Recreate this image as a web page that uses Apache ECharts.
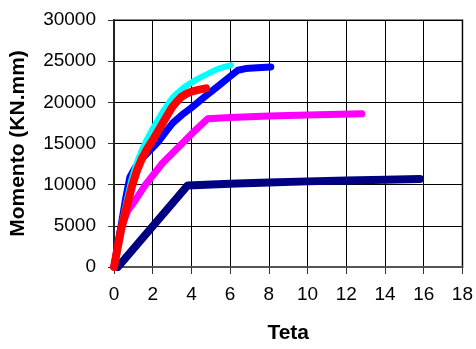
<!DOCTYPE html>
<html>
<head>
<meta charset="utf-8">
<script src="https://cdn.jsdelivr.net/npm/echarts@6/dist/echarts.min.js"></script>
<style>
  html, body { margin: 0; padding: 0; background: #fff; }
  #chart { width: 476px; height: 349px; }
</style>
</head>
<body>
<div id="chart"></div>
<script>
// Rotation (Teta) vs. moment curves, one per specimen
const tetaNavy = [0.2, 3.8, 6.0, 8.0, 10.0, 12.0, 14.0, 15.8];
const momNavy  = [0, 9900, 10100, 10250, 10400, 10500, 10600, 10700];

const tetaMagenta = [0, 0.3, 0.7, 1.07, 1.63, 2.5, 3.52, 4.2, 4.84, 6.0, 8.0, 10.0, 12.8];
const momMagenta  = [0, 4200, 6800, 8000, 10000, 12600, 15000, 16600, 18000, 18150, 18350, 18450, 18600];

const tetaBlue = [0, 0.2, 0.4, 0.6, 0.82, 1.1, 1.5, 2.0, 2.32, 2.7, 3.04, 3.5, 4.0, 4.7, 5.5, 6.0, 6.4, 6.8, 7.4, 8.1];
const momBlue  = [0, 2700, 5500, 8300, 10900, 12100, 13300, 14500, 15300, 16500, 17500, 18450, 19350, 20700, 22200, 23150, 23900, 24100, 24200, 24300];

const tetaCyan = [0, 0.2, 0.4, 0.65, 0.9, 1.15, 1.4, 1.7, 2.0, 2.5, 3.0, 3.3, 3.6, 4.2, 4.7, 5.3, 5.7, 6.03];
const momCyan  = [0, 2600, 5200, 8000, 10600, 12500, 14000, 15500, 16800, 18800, 20500, 21200, 21800, 22700, 23300, 24000, 24300, 24500];

const tetaRed = [0, 0.2, 0.4, 0.7, 0.95, 1.2, 1.45, 1.7, 2.0, 2.5, 3.0, 3.25, 3.5, 3.75, 4.0, 4.4, 4.75];
const momRed  = [0, 2500, 4900, 7700, 10000, 11800, 13200, 14300, 15400, 17400, 19400, 20100, 20700, 21050, 21300, 21550, 21700];

const xTicks = { min: 0, max: 18, step: 2 };
const yTicks = { min: 0, max: 30000, step: 5000 };

function pairs(xs, ys) {
  return xs.map((x, i) => [x, ys[i]]);
}

function curve(xs, ys, color, width) {
  return {
    type: 'line',
    data: pairs(xs, ys),
    showSymbol: false,
    smooth: false,
    lineStyle: { color: color, width: width, cap: 'round', join: 'round' },
    itemStyle: { color: color },
    animation: false
  };
}

const labelFont = 'Liberation Sans, Arial, sans-serif';

const chart = echarts.init(document.getElementById('chart'), null, { renderer: 'canvas' });

chart.setOption({
  backgroundColor: '#ffffff',
  animation: false,
  grid: {
    left: 112, right: 13, top: 20, bottom: 78,
    show: true, borderColor: '#8a8a8a', borderWidth: 2, backgroundColor: 'transparent'
  },
  xAxis: {
    type: 'value',
    min: xTicks.min, max: xTicks.max, interval: xTicks.step,
    name: 'Teta',
    nameLocation: 'middle',
    nameGap: 56,
    nameTextStyle: { fontFamily: labelFont, fontWeight: 'bold', fontSize: 21, color: '#000' },
    axisLine: { show: true, lineStyle: { color: '#555', width: 2 } },
    axisTick: { show: true, length: 7, lineStyle: { color: '#333', width: 1 } },
    axisLabel: { fontFamily: labelFont, fontSize: 19, color: '#000', margin: 18 },
    splitLine: { show: true, lineStyle: { color: '#000', width: 1 } }
  },
  yAxis: {
    type: 'value',
    min: yTicks.min, max: yTicks.max, interval: yTicks.step,
    name: 'Momento (KN.mm)',
    nameLocation: 'middle',
    nameGap: 85,
    nameTextStyle: { fontFamily: labelFont, fontWeight: 'bold', fontSize: 21, color: '#000' },
    axisLine: { show: true, lineStyle: { color: '#222', width: 2 } },
    axisTick: { show: true, length: 6, lineStyle: { color: '#333', width: 1 } },
    axisLabel: { fontFamily: labelFont, fontSize: 19, color: '#000', margin: 18, formatter: v => String(v) },
    splitLine: { show: true, lineStyle: { color: '#000', width: 1 } }
  },
  series: [
    curve(tetaNavy, momNavy, '#000080', 8),
    curve(tetaMagenta, momMagenta, '#ff00ff', 7),
    curve(tetaBlue, momBlue, '#0000ff', 7),
    curve(tetaCyan, momCyan, '#00ffff', 6),
    curve(tetaRed, momRed, '#ff0000', 8)
  ]
});
</script>
</body>
</html>
